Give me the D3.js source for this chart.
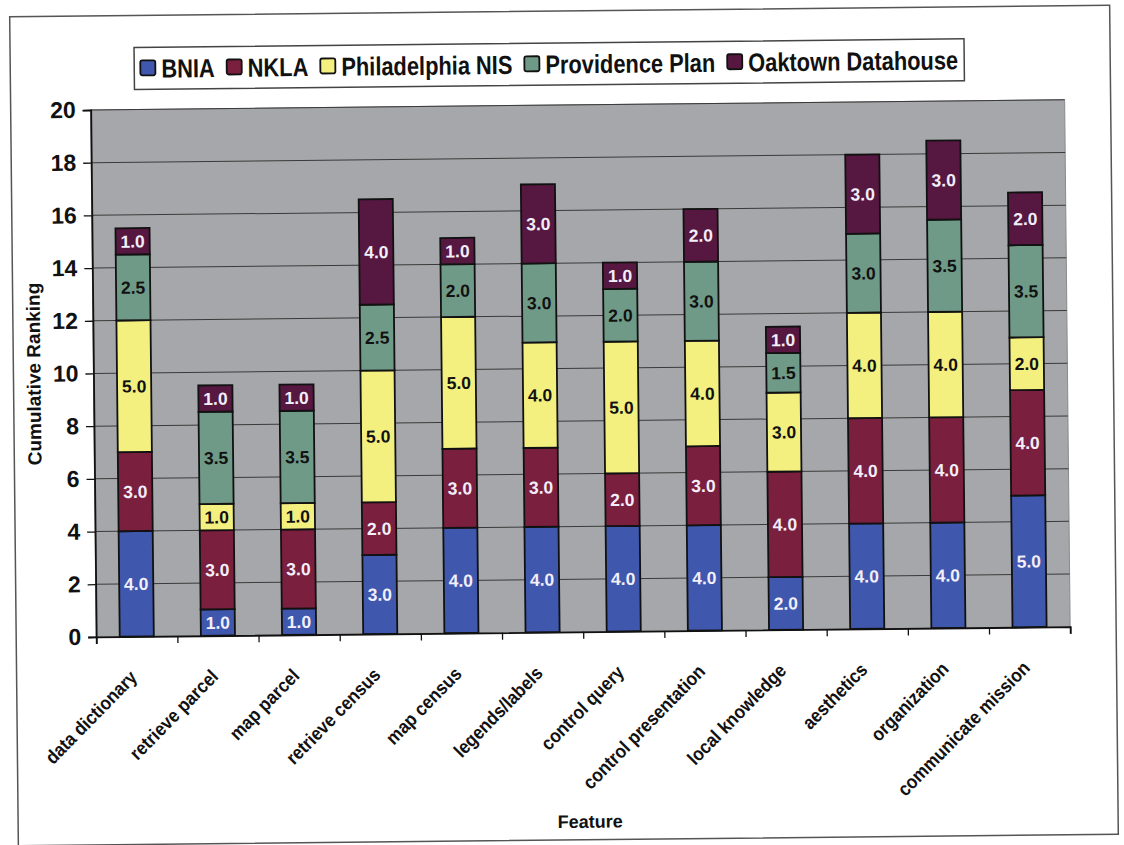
<!doctype html>
<html>
<head>
<meta charset="utf-8">
<style>
  body { margin: 0; background: #fff; }
  text { font-family: "Liberation Sans", Arial, sans-serif; font-weight: bold; }
</style>
</head>
<body>
  <svg id="chart"></svg>
<script src="https://d3js.org/d3.v7.min.js"></script>
<script>
  // data
  const categories = ["data dictionary", "retrieve parcel", "map parcel", "retrieve census", "map census",
    "legends/labels", "control query", "control presentation", "local knowledge", "aesthetics",
    "organization", "communicate mission"];
  const seriesNames = ["BNIA", "NKLA", "Philadelphia NIS", "Providence Plan", "Oaktown Datahouse"];
  const bnia = [4, 1, 1, 3, 4, 4, 4, 4, 2, 4, 4, 5];
  const nkla = [3, 3, 3, 2, 3, 3, 2, 3, 4, 4, 4, 4];
  const phila = [5, 1, 1, 5, 5, 4, 5, 4, 3, 4, 4, 2];
  const providence = [2.5, 3.5, 3.5, 2.5, 2, 3, 2, 3, 1.5, 3, 3.5, 3.5];
  const oaktown = [1, 1, 1, 4, 1, 3, 1, 2, 1, 3, 3, 2];
  const yTicks = [0, 2, 4, 6, 8, 10, 12, 14, 16, 18, 20];

  const colors = ["#3f57ac", "#7a1f3e", "#f3f080", "#6f9a87", "#561840"];
  const labelColors = ["#f2eefa", "#f2eefa", "#111", "#111", "#f2eefa"];

  const width = 1124, height = 845;
  const plot = { left: 94, right: 1068, top: 105, bottom: 632 };

  const rows = categories.map((c, i) => ({
    cat: c, BNIA: bnia[i], NKLA: nkla[i], "Philadelphia NIS": phila[i],
    "Providence Plan": providence[i], "Oaktown Datahouse": oaktown[i]
  }));
  const stacked = d3.stack().keys(seriesNames)(rows);

  const svg = d3.select("#chart").attr("width", width).attr("height", height);
  // the scan is slightly tilted
  const root = svg.append("g").attr("transform", "rotate(-0.6, 565, 425)");

  root.append("rect")
    .attr("x", 14).attr("y", 11).attr("width", 1100).attr("height", 829)
    .attr("fill", "#fff").attr("stroke", "#555").attr("stroke-width", 1.5);

  const x = d3.scaleBand().domain(categories).range([plot.left, plot.right]).paddingInner(0.58).paddingOuter(0.29);
  const y = d3.scaleLinear().domain([0, 20]).range([plot.bottom, plot.top]);
  const xEdges = d3.scaleLinear().domain([0, categories.length]).range([plot.left, plot.right]);

  root.append("rect")
    .attr("x", plot.left).attr("y", plot.top)
    .attr("width", plot.right - plot.left).attr("height", plot.bottom - plot.top)
    .attr("fill", "#a6a7aa").attr("stroke", "#8a8a8a").attr("stroke-width", 1);

  // gridlines
  root.append("g")
    .selectAll("line")
    .data(yTicks.filter(d => d > 0))
    .enter()
    .append("line")
    .attr("x1", plot.left).attr("x2", plot.right)
    .attr("y1", d => y(d)).attr("y2", d => y(d))
    .attr("stroke", "#3a3a3a").attr("stroke-width", 1);

  // bars
  const layer = root.append("g")
    .selectAll("g")
    .data(stacked)
    .enter()
    .append("g")
    .attr("fill", (d, i) => colors[i]);

  layer.selectAll("rect")
    .data(d => d)
    .enter()
    .append("rect")
    .attr("x", d => x(d.data.cat))
    .attr("y", d => y(d[1]))
    .attr("width", x.bandwidth())
    .attr("height", d => y(d[0]) - y(d[1]))
    .attr("stroke", "#111")
    .attr("stroke-width", 1.8);

  const fmt = d3.format(".1f");
  root.append("g")
    .selectAll("g")
    .data(stacked)
    .enter()
    .append("g")
    .attr("fill", (d, i) => labelColors[i])
    .selectAll("text")
    .data(d => d)
    .enter()
    .append("text")
    .attr("x", d => x(d.data.cat) + x.bandwidth() / 2)
    .attr("y", d => (y(d[0]) + y(d[1])) / 2)
    .attr("dy", "0.36em")
    .attr("text-anchor", "middle")
    .attr("font-size", 17.5)
    .text(d => fmt(d[1] - d[0]));

  // y axis
  const yAxis = root.append("g")
    .attr("transform", `translate(${plot.left},0)`)
    .call(d3.axisLeft(y).tickValues(yTicks).tickSize(8).tickPadding(7));
  yAxis.selectAll("text").attr("font-size", 23).attr("fill", "#111");
  yAxis.selectAll("line").attr("stroke", "#111").attr("stroke-width", 1.3);
  yAxis.select(".domain").attr("stroke", "#111").attr("stroke-width", 1.8);

  // x axis with ticks between categories
  const xAxis = root.append("g")
    .attr("transform", `translate(0,${plot.bottom})`)
    .call(d3.axisBottom(xEdges).tickValues(d3.range(categories.length + 1)).tickSize(7).tickFormat(""));
  xAxis.selectAll("line").attr("stroke", "#111").attr("stroke-width", 1.3);
  xAxis.select(".domain").attr("stroke", "#111").attr("stroke-width", 1.8);

  root.append("g")
    .selectAll("text")
    .data(categories)
    .enter()
    .append("text")
    .attr("transform", d => `translate(${x(d) + x.bandwidth() / 2 + 1},${plot.bottom + 42}) rotate(-45) scale(0.9,1)`)
    .attr("text-anchor", "end")
    .attr("font-size", 19)
    .attr("fill", "#111")
    .text(d => d);

  // axis titles
  root.append("text")
    .attr("transform", `translate(41,${(plot.top + plot.bottom) / 2}) rotate(-90)`)
    .attr("text-anchor", "middle")
    .attr("font-size", 19)
    .attr("fill", "#111")
    .text("Cumulative Ranking");

  root.append("text")
    .attr("x", 586).attr("y", 828)
    .attr("text-anchor", "middle")
    .attr("font-size", 18)
    .attr("fill", "#111")
    .text("Feature");

  // legend
  const legend = { left: 138, top: 43, width: 830, height: 42 };
  root.append("rect")
    .attr("x", legend.left).attr("y", legend.top)
    .attr("width", legend.width).attr("height", legend.height)
    .attr("fill", "#fff").attr("stroke", "#444").attr("stroke-width", 1.5);

  const squeeze = 0.84;
  const items = root.append("g")
    .selectAll("g")
    .data(seriesNames)
    .enter()
    .append("g");
  items.append("rect")
    .attr("width", 15).attr("height", 15).attr("y", -8).attr("rx", 2)
    .attr("fill", (d, i) => colors[i]).attr("stroke", "#111").attr("stroke-width", 1.8);
  const itemText = items.append("text")
    .attr("transform", `translate(21,0) scale(${squeeze},1)`)
    .attr("dy", "0.36em")
    .attr("font-size", 26)
    .attr("fill", "#111")
    .text(d => d);

  const widths = itemText.nodes().map(n => 21 + n.getComputedTextLength() * squeeze);
  const gap = 12;
  const total = d3.sum(widths) + gap * (widths.length - 1);
  let cx = legend.left + (legend.width - total) / 2;
  items.attr("transform", (d, i) => {
    const tx = cx;
    cx += widths[i] + gap;
    return `translate(${tx},${legend.top + legend.height / 2})`;
  });
</script>
</body>
</html>
